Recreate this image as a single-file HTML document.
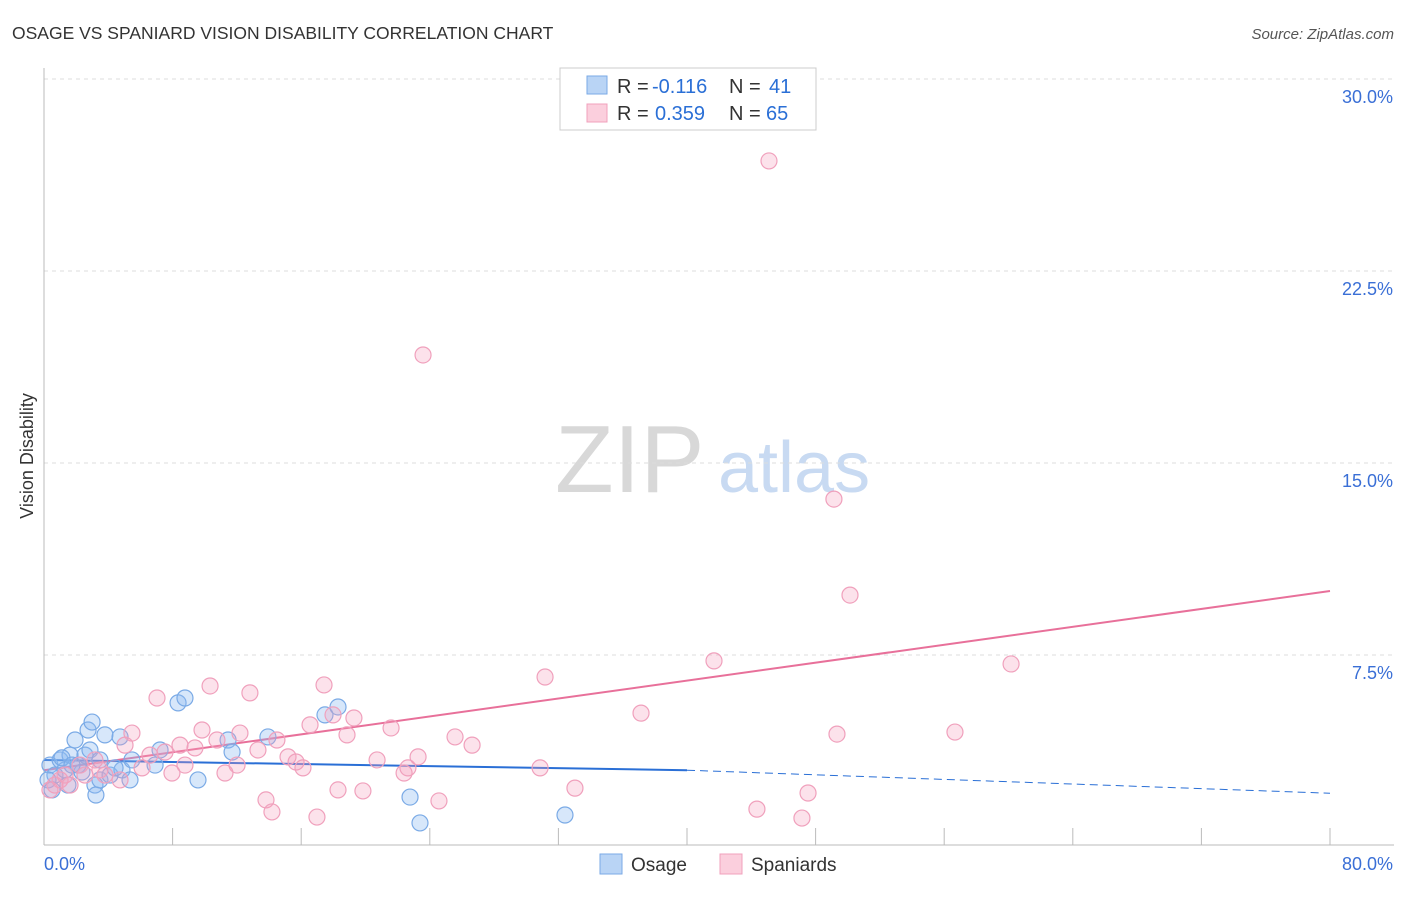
<!DOCTYPE html>
<html><head><meta charset="utf-8"><style>
body{margin:0;background:#fff;font-family:"Liberation Sans",sans-serif}
svg text{font-family:"Liberation Sans",sans-serif}
</style></head><body>
<svg id="chart" width="1406" height="892" viewBox="0 0 1406 892" xmlns="http://www.w3.org/2000/svg">
<text x="12" y="39" font-size="17.5" fill="#333">OSAGE VS SPANIARD VISION DISABILITY CORRELATION CHART</text>
<text x="1394" y="39" font-size="15" fill="#555" font-style="italic" text-anchor="end">Source: ZipAtlas.com</text>
<text transform="translate(33,456) rotate(-90)" font-size="18" fill="#333" text-anchor="middle">Vision Disability</text>
<g>
<text x="555" y="492" font-size="96" font-family="Liberation Serif,serif" fill="#d8d8d8">ZIP</text>
<text x="718" y="492" font-size="72" fill="#c8daf2">atlas</text>
</g>
<g id="grid"></g>
<g id="axes"></g>
<g id="lines"></g>
<g id="pts"></g>
<g>
<rect x="560" y="68" width="256" height="62" fill="#fff" stroke="#ccc"/>
<rect x="587" y="76" width="20" height="18" fill="#b9d4f5" stroke="#7aaae6"/>
<text x="617" y="93" font-size="20" fill="#333">R =</text>
<text x="652" y="93" font-size="20" fill="#2a6fd6">-0.116</text>
<text x="729" y="93" font-size="20" fill="#333">N =</text>
<text x="769" y="93" font-size="20" fill="#2a6fd6">41</text>
<rect x="587" y="104" width="20" height="18" fill="#fbcfdd" stroke="#f0a0bc"/>
<text x="617" y="120" font-size="20" fill="#333">R =</text>
<text x="655" y="120" font-size="20" fill="#2a6fd6">0.359</text>
<text x="729" y="120" font-size="20" fill="#333">N =</text>
<text x="766" y="120" font-size="20" fill="#2a6fd6">65</text>
</g>
<g>
<rect x="600" y="854" width="22" height="20" fill="#b9d4f5" stroke="#7aaae6"/>
<text x="631" y="871" font-size="19" fill="#333">Osage</text>
<rect x="720" y="854" width="22" height="20" fill="#fbcfdd" stroke="#f0a0bc"/>
<text x="751" y="871" font-size="19" fill="#333">Spaniards</text>
</g>
</svg>
<script>
const yTicks=[7.5,15,22.5,30];
const yTickLabels=["7.5%","15.0%","22.5%","30.0%"];
const xEndLabels=["0.0%","80.0%"];
const osageX=[0.37,0.68,1.00,1.31,1.62,1.49,1.93,2.12,2.36,2.55,2.74,2.86,2.99,3.17,3.23,3.48,3.79,4.11,4.73,4.85,5.35,5.47,6.91,7.22,8.34,8.77,9.58,11.45,11.70,13.93,17.48,18.29,22.77,23.39,32.41,0.25,0.50,1.12,1.74,3.48,4.42];
const osageY=[3.20,2.81,3.40,3.01,3.59,2.42,4.18,3.20,2.93,3.59,4.57,3.79,4.88,2.42,2.03,2.62,4.38,2.81,4.30,3.01,2.62,3.40,3.20,3.79,5.63,5.82,2.62,4.18,3.71,4.30,5.16,5.47,1.95,0.94,1.25,2.62,2.23,3.48,3.20,3.40,3.09];
const spanX=[0.37,0.68,1.00,1.31,1.62,2.24,2.55,3.17,3.48,3.79,4.73,5.04,5.47,6.10,6.59,7.03,7.53,7.96,8.46,8.77,9.39,9.83,10.33,10.76,11.26,12.01,12.19,12.81,13.31,13.81,14.18,14.49,15.18,15.68,16.11,16.55,16.98,17.42,17.98,18.29,18.85,19.28,19.84,20.72,21.59,22.40,22.64,23.27,23.58,24.57,25.57,26.63,30.86,31.17,33.03,37.14,41.68,44.35,45.10,47.15,47.53,49.14,49.33,50.14,56.67,60.16];
const spanY=[2.23,2.42,2.62,2.81,2.42,3.20,2.81,3.40,3.01,2.81,2.62,3.98,4.45,3.09,3.59,5.82,3.71,2.89,3.98,3.20,3.87,4.57,6.29,4.18,2.89,3.20,4.45,6.02,3.79,1.84,1.37,4.18,3.52,3.32,3.09,4.77,1.17,6.33,5.16,2.23,4.38,5.04,2.19,3.40,4.65,2.89,3.09,3.52,19.22,1.80,4.30,3.98,3.09,6.64,2.30,5.23,7.27,1.48,26.80,1.13,2.11,13.59,4.41,9.84,4.49,7.15];
const osageTrend=[3.4,3.0,2.1]; // at x=0,40,80
const spanTrend=[3.0,10.0]; // at x=0,80
const NS="http://www.w3.org/2000/svg";
const X=v=>44+v*16.075, Y=v=>847-v*25.6;
function mk(p,t,a){const e=document.createElementNS(NS,t);for(const k in a)e.setAttribute(k,a[k]);document.getElementById(p).appendChild(e);return e;}
yTicks.forEach((t,i)=>{
 const g=mk('grid','line',{x1:44,x2:1394,y1:Y(t),y2:Y(t),stroke:'#ddd','stroke-dasharray':'4,4'});
 
 
 const l=mk('grid','text',{x:1393,y:Y(t)+24,'font-size':18,fill:'#3a6fd6','text-anchor':'end'});
 l.textContent=yTickLabels[i];
 
 
});
const ax=mk('axes','line',{x1:44,x2:44,y1:68,y2:845,stroke:'#bbb'});


const bx=mk('axes','line',{x1:44,x2:1394,y1:845,y2:845,stroke:'#bbb'});


for(let v=0;v<=80;v+=8){const t=mk('axes','line',{x1:X(v),x2:X(v),y1:828,y2:845,stroke:'#bbb'});
 
 }
const xl0=mk('axes','text',{x:44,y:870,'font-size':18,fill:'#3a6fd6'});xl0.textContent=xEndLabels[0];


const xl1=mk('axes','text',{x:1393,y:870,'font-size':18,fill:'#3a6fd6','text-anchor':'end'});xl1.textContent=xEndLabels[1];


function pts(xs,ys,fill,stroke,name){xs.forEach((x,i)=>{const c=mk('pts','circle',{cx:X(x),cy:Y(ys[i]),r:8,fill:fill,stroke:stroke,'stroke-width':1.2});
 
 });}
pts(osageX,osageY,'rgba(140,185,240,0.35)','#7aaae6','osage-point');
pts(spanX,spanY,'rgba(245,160,190,0.3)','#f0a0bc','spaniards-point');
const l1=mk('lines','line',{x1:X(0),y1:Y(osageTrend[0]),x2:X(40),y2:Y(osageTrend[1]),stroke:'#2a6fd6','stroke-width':2});


const l2=mk('lines','line',{x1:X(40),y1:Y(osageTrend[1]),x2:X(80),y2:Y(osageTrend[2]),stroke:'#2a6fd6','stroke-width':1,'stroke-dasharray':'8,5'});


const l3=mk('lines','line',{x1:X(0),y1:Y(spanTrend[0]),x2:X(80),y2:Y(spanTrend[1]),stroke:'#e8709a','stroke-width':2});


</script>
</body></html>
